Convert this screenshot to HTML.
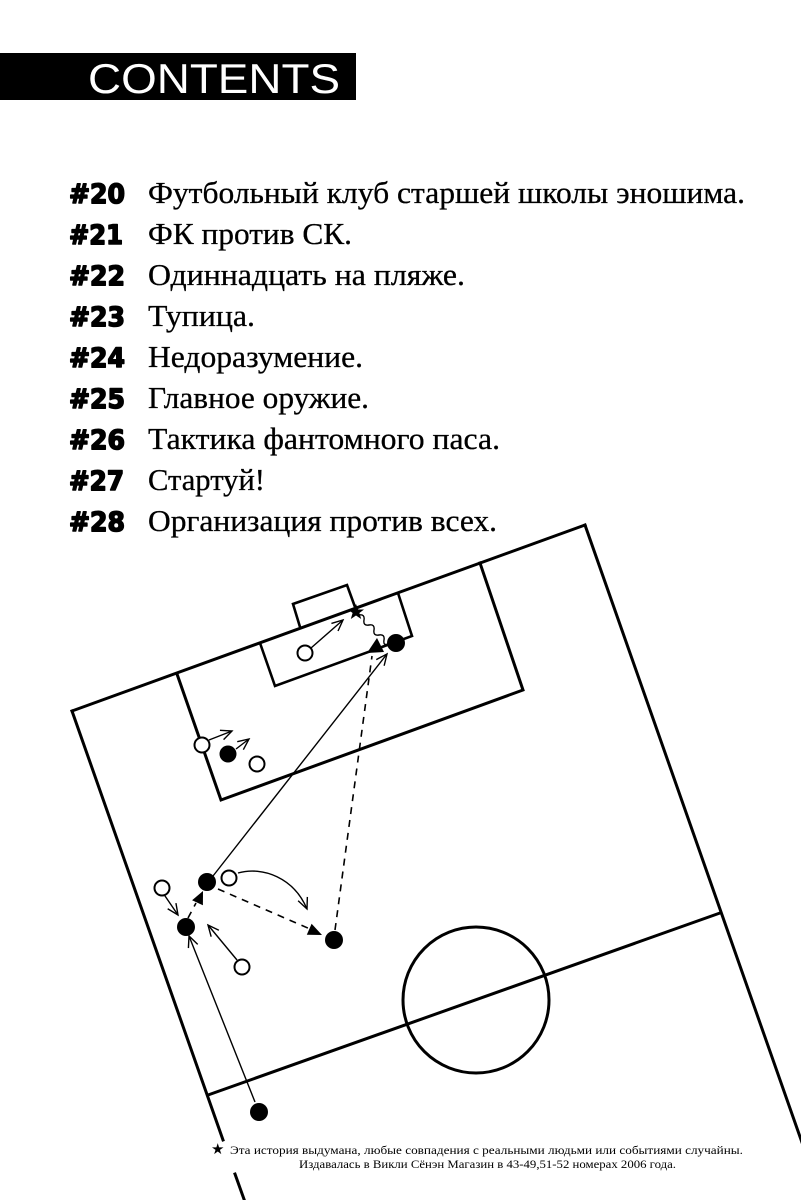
<!DOCTYPE html>
<html>
<head>
<meta charset="utf-8">
<style>
html,body{margin:0;padding:0;background:#fff;}
svg{display:block;}
</style>
</head>
<body>
<svg width="801" height="1200" viewBox="0 0 801 1200" xmlns="http://www.w3.org/2000/svg">
<defs>
<marker id="oa" markerWidth="14" markerHeight="12" refX="12" refY="6" orient="auto" markerUnits="userSpaceOnUse">
<path d="M1,1 L12,6 L1,11" fill="none" stroke="#000" stroke-width="1.4"/>
</marker>
</defs>
<rect width="801" height="1200" fill="#fff"/>

<!-- CONTENTS header -->
<rect x="0" y="53" width="356" height="47" fill="#000"/>
<text x="88" y="93" font-family="Liberation Sans, sans-serif" font-size="42" fill="#fff" textLength="252" lengthAdjust="spacingAndGlyphs">CONTENTS</text>

<!-- list -->
<g font-family="DejaVu Sans, Liberation Sans, sans-serif" font-weight="bold" font-size="27" fill="#000" stroke="#000" stroke-width="1.6" stroke-linejoin="round">
<text x="69" y="203" textLength="56" lengthAdjust="spacingAndGlyphs">#20</text>
<text x="69" y="244" textLength="54" lengthAdjust="spacingAndGlyphs">#21</text>
<text x="69" y="285" textLength="56" lengthAdjust="spacingAndGlyphs">#22</text>
<text x="69" y="326" textLength="56" lengthAdjust="spacingAndGlyphs">#23</text>
<text x="69" y="367" textLength="56" lengthAdjust="spacingAndGlyphs">#24</text>
<text x="69" y="408" textLength="56" lengthAdjust="spacingAndGlyphs">#25</text>
<text x="69" y="449" textLength="56" lengthAdjust="spacingAndGlyphs">#26</text>
<text x="69" y="490" textLength="55" lengthAdjust="spacingAndGlyphs">#27</text>
<text x="69" y="531" textLength="56" lengthAdjust="spacingAndGlyphs">#28</text>
</g>
<g font-family="Liberation Serif, serif" font-size="31" fill="#000" stroke="#000" stroke-width="0.3">
<text x="148" y="203" textLength="597" lengthAdjust="spacingAndGlyphs">Футбольный клуб старшей школы эношима.</text>
<text x="148" y="244" textLength="204" lengthAdjust="spacingAndGlyphs">ФК против СК.</text>
<text x="148" y="285" textLength="317" lengthAdjust="spacingAndGlyphs">Одиннадцать на пляже.</text>
<text x="148" y="326" textLength="107" lengthAdjust="spacingAndGlyphs">Тупица.</text>
<text x="148" y="367" textLength="215" lengthAdjust="spacingAndGlyphs">Недоразумение.</text>
<text x="148" y="408" textLength="221" lengthAdjust="spacingAndGlyphs">Главное оружие.</text>
<text x="148" y="449" textLength="352" lengthAdjust="spacingAndGlyphs">Тактика фантомного паса.</text>
<text x="148" y="490" textLength="117" lengthAdjust="spacingAndGlyphs">Стартуй!</text>
<text x="148" y="531" textLength="349" lengthAdjust="spacingAndGlyphs">Организация против всех.</text>
</g>

<!-- field -->
<g stroke="#000" stroke-width="3" fill="none" stroke-linecap="square">
<line x1="72" y1="711" x2="585" y2="525"/>
<line x1="585" y1="525" x2="805" y2="1151"/>
<line x1="72" y1="711" x2="223" y2="1140"/>
<line x1="235" y1="1174" x2="245" y2="1202"/>
<polyline points="177,674 221,800 523,690 480,563"/>
<line x1="208" y1="1095" x2="720" y2="913"/>
<circle cx="476" cy="1000" r="73"/>
</g>
<g stroke="#000" stroke-width="2.6" fill="none">
<polyline points="260,643 275,686 412,636 398,593"/>
<polyline points="300,627 293,604 347,585 355,607"/>
</g>

<!-- movement lines -->
<g stroke="#000" stroke-width="1.4" fill="none">
<line x1="213" y1="876" x2="387" y2="654" marker-end="url(#oa)"/>
<line x1="255" y1="1102" x2="189" y2="936" marker-end="url(#oa)"/>
<line x1="163" y1="893" x2="178" y2="915" marker-end="url(#oa)"/>
<line x1="237" y1="960" x2="208" y2="925" marker-end="url(#oa)"/>
<path d="M238,873 C263,866 294,878 307,909" marker-end="url(#oa)"/>
<line x1="311" y1="648" x2="343" y2="620" marker-end="url(#oa)"/>
<line x1="209" y1="740" x2="232" y2="731" marker-end="url(#oa)"/>
<line x1="236" y1="749" x2="249" y2="739" marker-end="url(#oa)"/>
<path d="M359,615 q6,-1 5,5 q-1,6 5,5 q6,-1 5,5 q-1,6 5,5 q6,-1 5,5 q-1,6 4,4"/>
</g>
<g stroke="#000" stroke-width="1.6" fill="none" stroke-dasharray="7,6">
<line x1="335" y1="930" x2="372" y2="656"/>
<line x1="218" y1="889" x2="310" y2="929"/>
<line x1="188" y1="918" x2="196" y2="903"/>
</g>

<!-- ball triangles and star -->
<g fill="#000">
<polygon points="377,638 367,653 384,652"/>
<polygon points="322,935 306.8,934.8 311.6,923.8"/>
<polygon points="203,891 202.9,905.3 192.1,900.3"/>
<polygon points="356,604 358.2,609.5 364,609.5 359.4,613 361.2,619 356,615.5 350.8,619 352.6,613 348,609.5 353.8,609.5"/>
</g>

<!-- players -->
<g fill="#000">
<circle cx="396" cy="643" r="9"/>
<circle cx="228" cy="754" r="8.5"/>
<circle cx="207" cy="882" r="9"/>
<circle cx="186" cy="927" r="9"/>
<circle cx="334" cy="940" r="9"/>
<circle cx="259" cy="1112" r="9"/>
</g>
<g fill="#fff" stroke="#000" stroke-width="2">
<circle cx="305" cy="653" r="7.5"/>
<circle cx="202" cy="745" r="7.5"/>
<circle cx="257" cy="764" r="7.5"/>
<circle cx="229" cy="878" r="7.5"/>
<circle cx="162" cy="888" r="7.5"/>
<circle cx="242" cy="967" r="7.5"/>
</g>

<!-- footer -->
<text x="211" y="1154" font-family="DejaVu Sans, sans-serif" font-size="15" fill="#000">★</text>
<g font-family="Liberation Serif, serif" font-size="12" fill="#000">
<text x="230" y="1154" textLength="513" lengthAdjust="spacingAndGlyphs">Эта история выдумана, любые совпадения с реальными людьми или событиями случайны.</text>
<text x="299" y="1168" textLength="377" lengthAdjust="spacingAndGlyphs">Издавалась в Викли Сёнэн Магазин в 43-49,51-52 номерах 2006 года.</text>
</g>
</svg>
</body>
</html>
